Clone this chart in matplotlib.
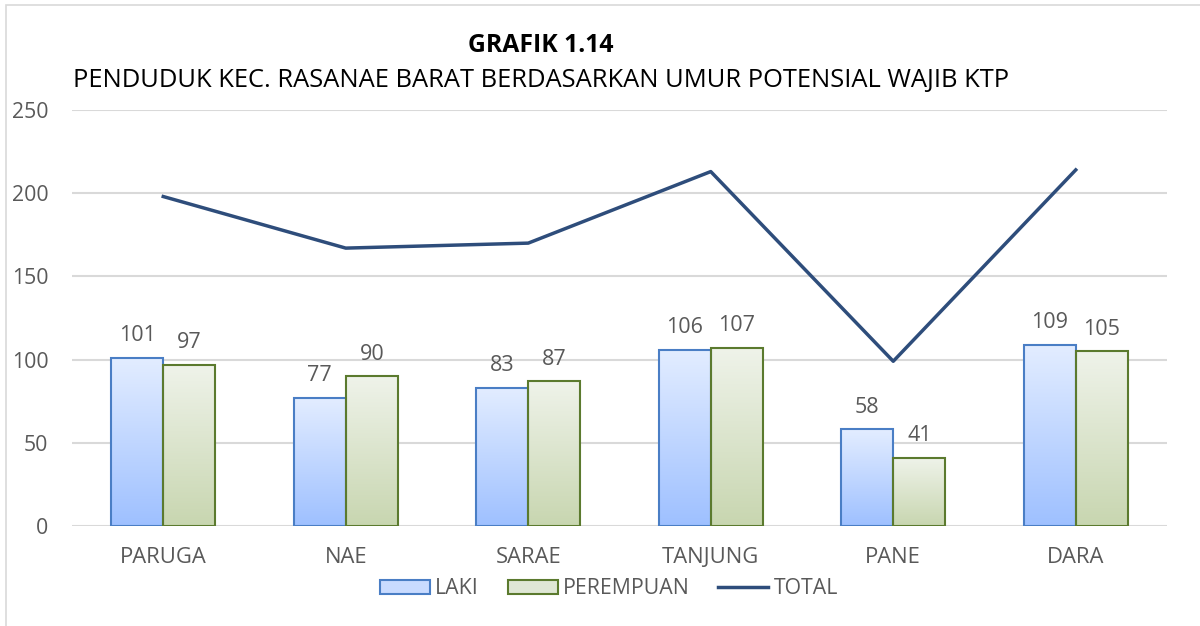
import numpy as np
import matplotlib.pyplot as plt
from matplotlib.patches import Rectangle
from matplotlib.colors import LinearSegmentedColormap
from matplotlib.lines import Line2D

# %% data
categories = ["PARUGA", "NAE", "SARAE", "TANJUNG", "PANE", "DARA"]
laki = [101, 77, 83, 106, 58, 109]
perempuan = [97, 90, 87, 107, 41, 105]
total = [198, 167, 170, 213, 99, 214]

plt.rcParams['font.family'] = ['Open Sans', 'DejaVu Sans']
grey = "#595959"

# %% figure
fig = plt.figure(figsize=(12, 6.26), dpi=100)
ax = fig.add_axes([72/1200, 1 - 526/626, (1167-72)/1200, (526-110)/626])

x = np.arange(len(categories))
w = 0.285

cmap_laki = LinearSegmentedColormap.from_list("laki", ["#9EC0FF", "#E3EDFF"])
cmap_per = LinearSegmentedColormap.from_list("per", ["#C8D6B0", "#EFF3EA"])
grad = np.linspace(0, 1, 256).reshape(-1, 1)

def gradient_bars(xs, vals, cmap, edge):
    bars = ax.bar(xs, vals, width=w, color="none", edgecolor=edge, linewidth=1.5, zorder=3)
    for b in bars:
        x0, y0 = b.get_x(), b.get_y()
        im = ax.imshow(grad, cmap=cmap, origin="lower", aspect="auto",
                       extent=[x0, x0 + b.get_width(), y0, y0 + b.get_height()], zorder=2)
        im.set_clip_path(b)
    return bars

b1 = gradient_bars(x - w/2, laki, cmap_laki, "#4A7EC5")
b2 = gradient_bars(x + w/2, perempuan, cmap_per, "#5B7A2E")

for xi, v in zip(x - w/2, laki):
    ax.text(xi, v + 7, str(v), ha="center", va="bottom", fontsize=15.5, color=grey)
for xi, v in zip(x + w/2, perempuan):
    ax.text(xi, v + 7, str(v), ha="center", va="bottom", fontsize=15.5, color=grey)

ax.plot(x, total, color="#2E4D7B", linewidth=2.5, zorder=4)

ax.set_xlim(-0.5, len(categories) - 0.5)
ax.set_ylim(0, 250)
ax.set_yticks(range(0, 251, 50))
ax.set_xticks(x)
ax.set_xticklabels(categories, fontsize=15.8)
ax.tick_params(axis="both", length=0, colors=grey)
ax.tick_params(axis="y", pad=17, labelsize=15.3)
ax.tick_params(axis="x", pad=15)
ax.grid(axis="y", color="#D9D9D9", linewidth=1.5, zorder=0)
ax.set_axisbelow(True)
for s in ax.spines.values():
    s.set_visible(False)

# titles
fig.text(541/1200, 1 - 45/626, "GRAFIK 1.14", ha="center", va="center",
         fontsize=17.8, fontweight="bold", color="black")
fig.text(541/1200, 1 - 81/626, "PENDUDUK KEC. RASANAE BARAT BERDASARKAN UMUR POTENSIAL WAJIB KTP",
         ha="center", va="center", fontsize=18.4, color="black")

# legend
handles = [
    Rectangle((0, 0), 1, 1, facecolor="#C9DBFF", edgecolor="#4A7EC5", linewidth=1.5),
    Rectangle((0, 0), 1, 1, facecolor="#DFE7D5", edgecolor="#5B7A2E", linewidth=1.5),
    Line2D([0], [0], color="#2E4D7B", linewidth=2.5),
]
leg = fig.legend(handles, ["LAKI", "PEREMPUAN", "TOTAL"], loc="center",
                 bbox_to_anchor=(609/1200, 1 - 589/626), ncol=3, frameon=False,
                 fontsize=15.3, handlelength=2.35, handleheight=0.6, handletextpad=0.25,
                 columnspacing=1.35)
for t in leg.get_texts():
    t.set_color(grey)

# outer chart border
fig.patches.append(Rectangle((6/1200, -0.1), 1.2, 1 - 5/626 + 0.1, transform=fig.transFigure,
                             fill=False, edgecolor="#D9D9D9", linewidth=1.2))

fig.savefig("out.png", dpi=100)
